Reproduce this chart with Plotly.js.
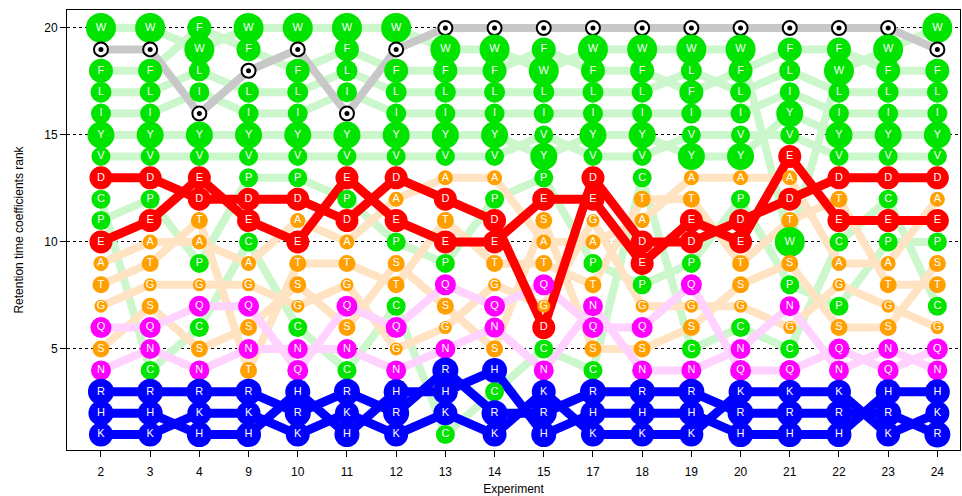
<!DOCTYPE html>
<html><head><meta charset="utf-8">
<script src="https://cdn.plot.ly/plotly-3.0.1.min.js"></script>
<style>body{margin:0;background:#fff}#plot{width:962px;height:496px}</style>
</head><body><div id="plot"></div>
<script>
// Experiments (x categories)
const experiments = ["2","3","4","9","10","11","12","13","14","15","17","18","19","20","21","22","23","24"];
// Residue order in each experiment, from rank 20 (top) down to rank 1; "o" = dead-time marker
const exp2  = ["W","o","F","L","I","Y","V","D","C","P","E","A","T","G","Q","S","N","R","H","K"];
const exp3  = ["W","o","F","L","I","Y","V","D","P","E","A","T","G","S","Q","N","C","R","H","K"];
const exp4  = ["F","W","L","I","o","Y","V","E","D","T","A","P","G","Q","C","S","N","R","K","H"];
const exp9  = ["W","F","o","L","I","Y","V","P","D","E","C","A","G","Q","S","N","T","R","K","H"];
const exp10 = ["W","o","F","L","I","Y","V","P","D","A","E","T","S","G","C","N","Q","H","R","K"];
const exp11 = ["W","F","L","I","o","Y","V","E","P","D","A","T","G","Q","S","N","C","R","K","H"];
const exp12 = ["W","o","F","L","I","Y","V","D","A","E","P","S","T","C","Q","G","N","H","R","K"];
const exp13 = ["o","W","F","L","I","Y","V","A","D","T","E","P","Q","S","G","N","R","H","K","C"];
const exp14 = ["o","W","F","L","I","Y","V","A","P","D","E","T","G","Q","N","S","H","C","R","K"];
const exp15 = ["o","F","W","L","I","V","Y","P","E","S","A","T","Q","G","D","C","N","K","R","H"];
const exp17 = ["o","W","F","L","I","Y","V","D","E","G","A","P","T","N","Q","S","C","R","H","K"];
const exp18 = ["o","W","F","L","I","Y","V","C","T","A","D","E","P","G","Q","S","N","R","H","K"];
const exp19 = ["o","W","L","F","I","V","Y","A","T","E","D","P","Q","G","S","C","N","R","H","K"];
const exp20 = ["o","W","F","L","I","V","Y","A","P","D","E","T","S","G","C","N","Q","K","R","H"];
const exp21 = ["o","F","L","I","Y","V","E","A","D","T","W","S","P","N","G","C","Q","K","R","H"];
const exp22 = ["o","F","W","L","I","Y","V","D","T","E","C","A","G","P","S","Q","N","K","R","H"];
const exp23 = ["o","W","F","L","I","Y","V","D","C","E","P","A","T","G","S","N","Q","H","R","K"];
const exp24 = ["W","o","F","L","I","Y","V","D","A","E","P","S","T","C","G","Q","N","H","K","R"];
const orders = [exp2,exp3,exp4,exp9,exp10,exp11,exp12,exp13,exp14,exp15,exp17,exp18,exp19,exp20,exp21,exp22,exp23,exp24];
const residues = ["W","F","L","I","Y","V","C","P","A","T","G","S","Q","N","D","E","R","H","K","o"];

// styles
const green="#00e400", orange="#ffa000", magenta="#ff00ff", red="#ff0000", blue="#0000ff";
const group = {W:"g",F:"g",L:"g",I:"g",Y:"g",V:"g",C:"g",P:"g",A:"o",T:"o",G:"o",S:"o",Q:"m",N:"m",D:"r",E:"r",R:"b",H:"b",K:"b",o:"d"};
const fill = {g:green,o:orange,m:magenta,r:red,b:blue,d:"#ffffff"};
const lineCol = {g:"#ccf7cc",o:"#ffe3c2",m:"#ffd2ff",r:red,b:blue,d:"#c8c8c8"};
const size = {W:30,Y:27,F:24,L:21,I:20,V:19,C:19,P:19,A:15,T:17,G:13,S:17,Q:21,N:20,D:23,E:23,R:26,H:25,K:24,o:14};

function rankOf(res, k){ return 20 - orders[k].indexOf(res); }

const traces = [];
const layerOrder = ["g","o","m","d","r","b"];
layerOrder.forEach(gr=>{
  residues.filter(r=>group[r]===gr).forEach(r=>{
    traces.push({type:"scatter",mode:"lines",x:experiments,y:experiments.map((e,k)=>rankOf(r,k)),
      line:{color:lineCol[gr],width:gr==="r"||gr==="b"?9:8},hoverinfo:"skip",showlegend:false});
  });
});

// markers: one trace, drawn from rank 20 down to rank 1 in each experiment
const mx=[],my=[],mc=[],ms=[],mt=[],mlw=[];
const dx=[],dy=[];
experiments.forEach((e,k)=>{
  orders[k].forEach((r,i)=>{
    mx.push(e); my.push(20-i); mc.push(fill[group[r]]); ms.push(size[r]);
    mt.push(r==="o"?"":r); mlw.push(r==="o"?2:0);
    if(r==="o"){dx.push(e);dy.push(20-i);}
  });
});
traces.push({type:"scatter",mode:"markers+text",x:mx,y:my,text:mt,textposition:"middle center",
  textfont:{color:"#ffffff",size:11,family:"Liberation Sans, Arial, sans-serif"},
  marker:{color:mc,size:ms,opacity:1,line:{color:"#000000",width:mlw}},hoverinfo:"skip",showlegend:false});
traces.push({type:"scatter",mode:"markers",x:dx,y:dy,marker:{color:"#000000",size:5},hoverinfo:"skip",showlegend:false});

const layout = {
  width:962,height:496,margin:{l:67,r:2,t:10,b:46},
  paper_bgcolor:"#fff",plot_bgcolor:"#fff",showlegend:false,
  font:{family:"Liberation Sans, Arial, sans-serif",size:12,color:"#000"},
  xaxis:{type:"category",categoryarray:experiments,range:[-0.69,17.46],showgrid:false,zeroline:false,
    showline:true,mirror:true,linecolor:"#000",linewidth:1,ticks:"outside",ticklen:6,tickcolor:"#000",
    ticklabelstandoff:5,tickfont:{size:12},title:{text:"Experiment",font:{size:12},standoff:9}},
  yaxis:{range:[0.28,20.84],tickvals:[5,10,15,20],showgrid:true,gridcolor:"#000",gridwidth:1,griddash:"3px,3px",
    zeroline:false,showline:true,mirror:true,linecolor:"#000",linewidth:1,ticks:"outside",ticklen:6,tickcolor:"#000",
    tickfont:{size:12},title:{text:"Retention time coefficients rank",font:{size:12},standoff:18}}
};
Plotly.newPlot("plot",traces,layout,{staticPlot:true,displayModeBar:false});
</script></body></html>
